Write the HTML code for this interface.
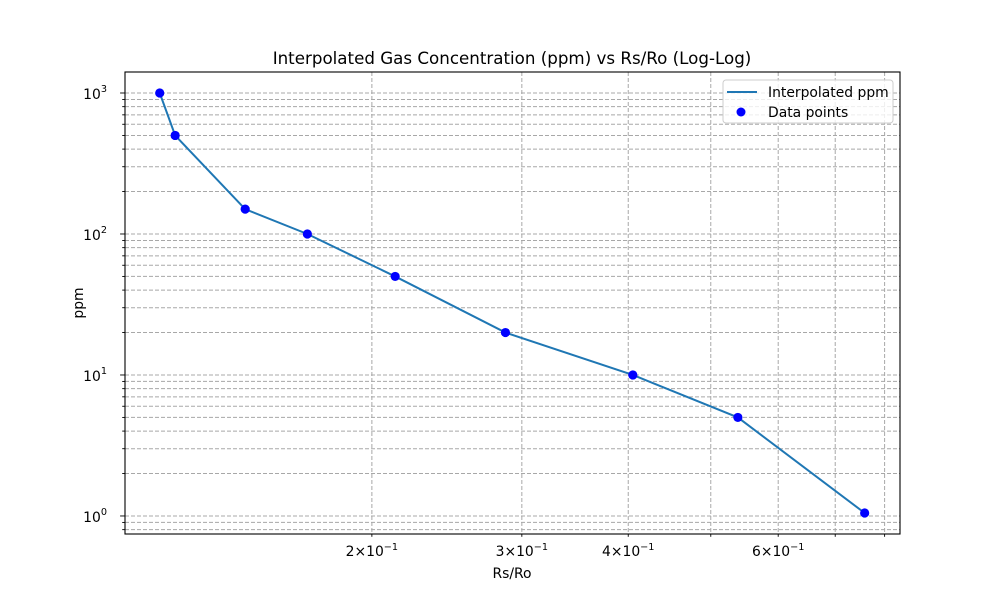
<!DOCTYPE html>
<html><head><meta charset="utf-8"><style>
body{margin:0;background:#fff}
svg text{font-family:"DejaVu Sans","Liberation Sans",sans-serif;fill:#000}
</style></head><body>
<svg width="1000" height="600" viewBox="0 0 1000 600">
<rect width="1000" height="600" fill="#fff"/>
<g id="grid"></g>
<g id="series"></g>
<g id="axes"></g>
<text x="512" y="64" font-size="16.7" text-anchor="middle">Interpolated Gas Concentration (ppm) vs Rs/Ro (Log-Log)</text>
<text x="512" y="578" font-size="13.9" text-anchor="middle">Rs/Ro</text>
<text x="0" y="0" font-size="13.9" text-anchor="middle" transform="translate(83,303) rotate(-90)">ppm</text>
<g>
<rect x="723" y="80" width="170" height="43" rx="3" fill="#fff" fill-opacity="0.8" stroke="#ccc"/>
<line x1="727" y1="92" x2="757" y2="92" stroke="#1f77b4" stroke-width="2"/>
<text x="768" y="97" font-size="13.9">Interpolated ppm</text>
<circle cx="741" cy="112" r="4.5" fill="#0000ff"/>
<text x="768" y="117" font-size="13.9">Data points</text>
</g>
</svg>
<script>
const xValues=[0.1127,0.1175,0.142,0.168,0.213,0.287,0.405,0.538,0.758];
const ppmValues=[1000,500,150,100,50,20,10,5,1.05];
const xTickValues=[0.2,0.3,0.4,0.6];
const xTickLabels=["2","3","4","6"];
const yTickValues=[1,10,100,1000];
const yTickLabels=["0","1","2","3"];
const L=125,R=900,T=72,B=534;
const xmin=Math.log10(0.1026),xmax=Math.log10(0.834);
const ymin=Math.log10(0.745),ymax=Math.log10(1409);
const sx=v=>L+(Math.log10(v)-xmin)/(xmax-xmin)*(R-L);
const sy=v=>B-(Math.log10(v)-ymin)/(ymax-ymin)*(B-T);
const NS="http://www.w3.org/2000/svg";
function mk(p,tag,a){const e=document.createElementNS(NS,tag);for(const k in a)e.setAttribute(k,a[k]);p.appendChild(e);return e;}
const grid=document.getElementById('grid'),ser=document.getElementById('series'),ax=document.getElementById('axes');
for(let d=-2;d<=0;d++)for(let m=1;m<=9;m++){const v=m*Math.pow(10,d);const x=sx(v);if(x<L||x>R)continue;
 const g=mk(grid,'line',{x1:x,x2:x,y1:T,y2:B,stroke:'#a8a8a8','stroke-dasharray':'4,2','stroke-width':1});
 
 const t=mk(ax,'line',{x1:x,x2:x,y1:B,y2:B+(m===1?4.9:2.8),stroke:'#000','stroke-width':0.9});
 }
for(let d=-1;d<=3;d++)for(let m=1;m<=9;m++){const v=m*Math.pow(10,d);const y=sy(v);if(y<T||y>B)continue;
 const g=mk(grid,'line',{x1:L,x2:R,y1:y,y2:y,stroke:'#a8a8a8','stroke-dasharray':'4,2','stroke-width':1});
 
 const t=mk(ax,'line',{x1:L,x2:L-(m===1?4.9:2.8),y1:y,y2:y,stroke:'#000','stroke-width':0.9});
 }
const pl=mk(ser,'polyline',{points:xValues.map((v,i)=>sx(v)+','+sy(ppmValues[i])).join(' '),fill:'none',stroke:'#1f77b4','stroke-width':2});

xValues.forEach((v,i)=>{const c=mk(ser,'circle',{cx:sx(v),cy:sy(ppmValues[i]),r:4.6,fill:'#0000ff'});
 });
const fr=mk(ax,'rect',{x:L,y:T,width:R-L,height:B-T,fill:'none',stroke:'#000','stroke-width':1.1});

xTickValues.forEach((v,i)=>{const t=mk(ax,'text',{x:sx(v),y:B+22,'font-size':13.9,'text-anchor':'middle'});
 
 t.innerHTML=xTickLabels[i]+'×10<tspan dy="-6" font-size="9.7">−1</tspan>';});
yTickValues.forEach((v,i)=>{const t=mk(ax,'text',{x:L-18,y:sy(v)+6,'font-size':13.9,'text-anchor':'end'});
 
 t.innerHTML='10<tspan dy="-7" font-size="9.7">'+yTickLabels[i]+'</tspan>';});
</script>
</body></html>
